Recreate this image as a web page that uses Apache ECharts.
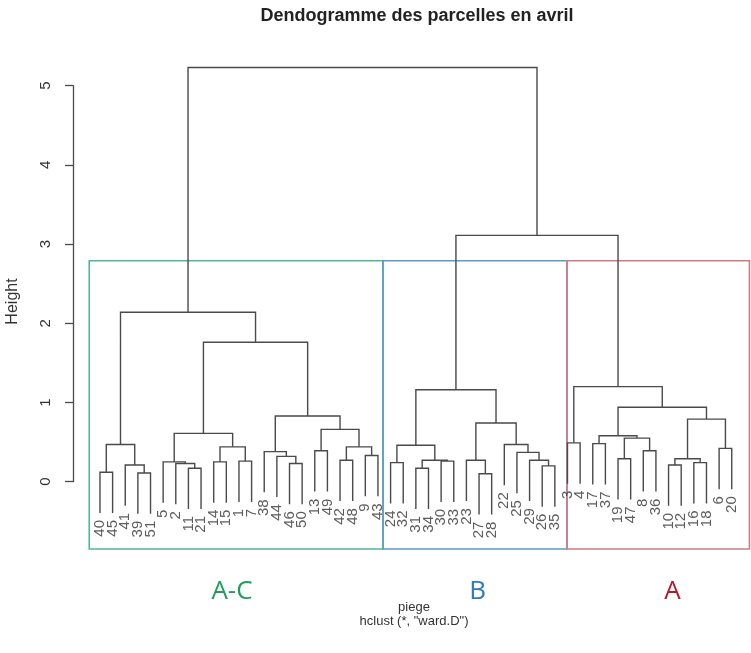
<!DOCTYPE html>
<html><head><meta charset="utf-8">
<script src="https://cdn.jsdelivr.net/npm/echarts@6/dist/echarts.min.js"></script>
<style>html,body{margin:0;padding:0;background:#fff}#c{width:751px;height:653px}</style>
</head><body><div id="c"></div>
<script>
// Leaf order (left to right) as plotted
const leafOrder = ['40','45','41','39','51','5','2','11','21','14','15','1','7','38','44','46','50','13','49','42','48','9','43',
  '24','32','31','34','30','33','23','27','28','22','25','29','26','35',
  '3','4','17','37','19','47','8','36','10','12','16','18','6','20'];
// hclust-style merge matrix: negative = observation label, positive = earlier merge (1-based)
const mergeLeft  = [-40,-39,-41,1,-11,-2,-5,-14,-1,8, 7,-46,-44,-38,-13,-42,-9,16,15,14, 11,4,-24,-31,-30,24,23,-27,-23,-26, -29,-25,-22,29,27,-3,-17,-19,-8,38, 37,-10,-16,42,-6,44,41,36,35,22];
const mergeRight = [-45,-51,2,3,-21,5,6,-15,-7,9, 10,-50,12,13,-49,-48,-43,17,18,19, 20,21,-32,-34,-33,25,26,-28,28,-35, 30,31,32,33,34,-4,-37,-47,-36,39, 40,-12,-18,43,-20,45,46,47,48,49];
const mergeHeight = [0.12,0.11,0.21,0.47,0.17,0.23,0.25,0.25,0.26,0.44, 0.61,0.23,0.32,0.38,0.39,0.27,0.33,0.44,0.66,0.83, 1.76,2.14,0.24,0.17,0.26,0.27,0.46,0.10,0.27,0.20, 0.27,0.37,0.47,0.74,1.16,0.49,0.48,0.29,0.39,0.55, 0.58,0.21,0.24,0.29,0.42,0.79,0.94,1.20,3.11,5.23];
// y axis ticks
const yTicks = [0,1,2,3,4,5];
// cluster boxes (in leaf-position units) and their labels
const groupNames = ['A-C','B','A'];
const groupStart = [0.15, 23.4, 37.96];
const groupEnd   = [23.4, 37.96, 52.4];
const groupTop   = [2.79, 2.79, 2.79];
const groupLabelX = [11.45, 30.9, 46.3];

// ---- style / layout constants ----
const HANG = 0.515;
const Y_MIN = -0.85, Y_MAX = 5.4;
const X_MIN = -1, X_MAX = 52.5;
const GRID_TOP = 54, GRID_H = 495;
const UNIT = GRID_H / (Y_MAX - Y_MIN);
const LINE = '#4a4a4a';
const FONT = '"Liberation Sans", Arial, sans-serif';
const boxColors = ['#52b894', '#5c9cc4', '#cf7b86'];
const labelColors = ['#1f9d5c', '#2b7cc1', '#b3182b'];

// ---- build dendrogram geometry from merges ----
const leafPos = {};
leafOrder.forEach((l, i) => { leafPos[l] = i + 1; });
const nodeX = [];
const segs = [];
const leafPts = [];
for (let i = 0; i < mergeHeight.length; i++) {
  const h = mergeHeight[i];
  const info = c => c < 0 ? { x: leafPos[String(-c)], leaf: true, label: String(-c) }
                          : { x: nodeX[c - 1], h: mergeHeight[c - 1], leaf: false };
  const a = info(mergeLeft[i]), b = info(mergeRight[i]);
  const ha = a.leaf ? h - HANG : a.h;
  const hb = b.leaf ? h - HANG : b.h;
  if (a.leaf) leafPts.push({ name: a.label, value: [a.x, ha] });
  if (b.leaf) leafPts.push({ name: b.label, value: [b.x, hb] });
  segs.push([a.x, ha, b.x, hb, h]);
  nodeX.push((a.x + b.x) / 2);
}
const boxData = groupNames.map((n, i) => [groupStart[i], groupEnd[i], groupTop[i], i, groupLabelX[i]]);

const chart = echarts.init(document.getElementById('c'), null, { renderer: 'canvas' });
chart.setOption({
  animation: false,
  backgroundColor: '#fff',
  grid: [
    { left: 74.7, right: 0.3, top: GRID_TOP, height: GRID_H, containLabel: false, outerBoundsMode: 'none' },
    { left: 73, width: 1, top: GRID_TOP + (Y_MAX - yTicks[yTicks.length - 1]) * UNIT,
      height: (yTicks[yTicks.length - 1] - yTicks[0]) * UNIT, containLabel: false, outerBoundsMode: 'none' }
  ],
  xAxis: [
    { type: 'value', gridIndex: 0, min: X_MIN, max: X_MAX, show: false },
    { type: 'value', gridIndex: 1, min: 0, max: 1, show: false }
  ],
  yAxis: [
    { type: 'value', gridIndex: 0, min: Y_MIN, max: Y_MAX,
      axisLine: { show: false }, axisTick: { show: false }, axisLabel: { show: false }, splitLine: { show: false },
      name: 'Height', nameLocation: 'middle', nameGap: 54, nameRotate: 90,
      nameTextStyle: { fontSize: 16, color: '#333', fontFamily: FONT } },
    { type: 'value', gridIndex: 1, min: yTicks[0], max: yTicks[yTicks.length - 1], interval: 1, position: 'left',
      axisLine: { show: true, lineStyle: { color: LINE, width: 1.3 } },
      axisTick: { show: true, length: 8, lineStyle: { color: LINE, width: 1.3 } },
      axisLabel: { show: true, rotate: 90, margin: 20, fontSize: 15, color: '#333', fontFamily: FONT },
      splitLine: { show: false } }
  ],
  graphic: [
    { type: 'text', x: 417, y: 16, style: { text: 'Dendogramme des parcelles en avril', font: 'bold 18px ' + FONT, fill: '#222', align: 'center', verticalAlign: 'middle' } },
    { type: 'text', x: 414, y: 607, style: { text: 'piege', font: '13px ' + FONT, fill: '#333', align: 'center', verticalAlign: 'middle' } },
    { type: 'text', x: 414, y: 621, style: { text: 'hclust (*, "ward.D")', font: '13px ' + FONT, fill: '#333', align: 'center', verticalAlign: 'middle' } }
  ],
  series: [
    {
      type: 'custom', xAxisIndex: 0, yAxisIndex: 0, data: boxData, clip: false,
      encode: { x: [0, 1], y: [2] },
      renderItem: function (params, api) {
        const i = api.value(3);
        const p0 = api.coord([api.value(0), api.value(2)]);
        const p1 = api.coord([api.value(1), Y_MIN]);
        const lp = api.coord([api.value(4), Y_MIN]);
        return { type: 'group', children: [
          { type: 'rect', shape: { x: p0[0], y: p0[1], width: p1[0] - p0[0], height: p1[1] - p0[1] },
            style: { fill: 'none', stroke: boxColors[i], lineWidth: 1.6 } },
          { type: 'text', x: lp[0], y: lp[1] + 43,
            style: { text: groupNames[i], font: '26px "Open Sans", ' + FONT, fill: labelColors[i], align: 'center', verticalAlign: 'middle' } }
        ] };
      }
    },
    {
      type: 'custom', xAxisIndex: 0, yAxisIndex: 0, data: segs, clip: false,
      encode: { x: [0, 2], y: [1, 3, 4] },
      renderItem: function (params, api) {
        const p1 = api.coord([api.value(0), api.value(1)]);
        const p2 = api.coord([api.value(0), api.value(4)]);
        const p3 = api.coord([api.value(2), api.value(4)]);
        const p4 = api.coord([api.value(2), api.value(3)]);
        return { type: 'polyline', shape: { points: [p1, p2, p3, p4] },
          style: { fill: 'none', stroke: LINE, lineWidth: 1.4 } };
      }
    },
    {
      type: 'scatter', xAxisIndex: 0, yAxisIndex: 0, data: leafPts, symbolSize: 0, silent: true,
      label: { show: true, formatter: '{b}', position: 'bottom', distance: 7, rotate: 90,
        align: 'right', verticalAlign: 'middle', fontSize: 15, color: '#333', fontFamily: FONT }
    }
  ]
});
</script></body></html>
